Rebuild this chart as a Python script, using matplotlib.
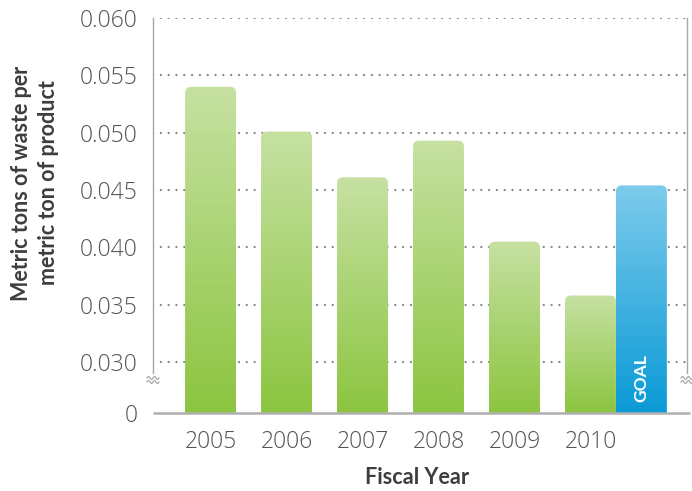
import matplotlib
matplotlib.use('Agg')
import matplotlib.pyplot as plt
import numpy as np
from matplotlib.patches import FancyBboxPatch
from matplotlib.colors import LinearSegmentedColormap
import matplotlib.transforms as mtransforms
from matplotlib import font_manager as fm

years = ['2005', '2006', '2007', '2008', '2009', '2010']
values = [0.0540, 0.0501, 0.0461, 0.0493, 0.0405, 0.0358]
goal_value = 0.0454
goal_label = 'GOAL'
ytick_values = [0.030, 0.035, 0.040, 0.045, 0.050, 0.055, 0.060]
ytick_labels = ['0.030', '0.035', '0.040', '0.045', '0.050', '0.055', '0.060']
zero_label = '0'
ylabel_line1 = 'Metric tons of waste per'
ylabel_line2 = 'metric ton of product'
xlabel_text = 'Fiscal Year'

# pick a light-weight font if one exists
light_family, light_weight = 'Open Sans', 'normal'
for fam in ['Open Sans', 'Noto Sans', 'Roboto', 'Inter', 'Lato']:
    ws = []
    for f in fm.fontManager.ttflist:
        if f.name == fam:
            w = f.weight
            if isinstance(w, str):
                w = fm.weight_dict.get(w, 400)
            ws.append(w)
    if any(250 <= w <= 350 for w in ws):
        light_family, light_weight = fam, 300
        break

W, H = 692, 491
fig = plt.figure(figsize=(W / 100, H / 100), dpi=100)
ax_l, ax_b, ax_w, ax_h = 153, 78, 534, 395
ax = fig.add_axes([ax_l / W, ax_b / H, ax_w / W, ax_h / H])
renderer = fig.canvas.get_renderer()

def fit_size(size, family, weight, text, target_px):
    t = fig.text(0, 0, text, fontsize=size, family=family, fontweight=weight)
    wpx = t.get_window_extent(renderer).width
    t.remove()
    return size * target_px / wpx

px_per_step = (362 - 18) / 6.0
y0 = 0.030 - (413 - 362) / px_per_step * 0.005
ytop = 0.060
xlo, xhi = -0.757, 6.27
ax.set_xlim(xlo, xhi)
ax.set_ylim(y0, ytop)
xpp = (xhi - xlo) / ax_w
ypp = (ytop - y0) / ax_h

bw = 0.67
for s in ax.spines.values():
    s.set_visible(False)

# dotted grid
for v in ytick_values:
    ax.plot([xlo, xhi], [v, v], color='#888888', lw=1.7, linestyle=(0, (0.01, 3.3)),
            dash_capstyle='round', zorder=1)

def grad_bar(rect, c_top, c_bot):
    x, y = rect.get_x(), rect.get_y()
    w, h = rect.get_width(), rect.get_height()
    r = 6 * xpp
    patch = FancyBboxPatch((x, y - 12 * ypp), w, h + 12 * ypp,
                           boxstyle=f'round,pad=0,rounding_size={r}',
                           mutation_aspect=ypp / xpp, transform=ax.transData,
                           facecolor='none', edgecolor='none')
    ax.add_patch(patch)
    cmap = LinearSegmentedColormap.from_list('g', [c_bot, c_top])
    grad = np.linspace(0, 1, 256).reshape(-1, 1)
    im = ax.imshow(grad, cmap=cmap, extent=[x, x + w, y, y + h], origin='lower',
                   aspect='auto', zorder=2, interpolation='bilinear')
    im.set_clip_path(patch)

xpos = np.arange(len(years))
bars = ax.bar(xpos, [v - y0 for v in values], bottom=y0, width=bw, color='none',
              edgecolor='none', zorder=2)
for b in bars:
    grad_bar(b, '#c6e1a2', '#8cc540')
gbar = ax.bar([len(years) - 1 + bw], [goal_value - y0], bottom=y0, width=bw,
              color='none', edgecolor='none', zorder=2)
grad_bar(gbar[0], '#7dcbec', '#0a9ad6')

ax.set_xlim(xlo, xhi)
ax.set_ylim(y0, ytop)

goal_fs = fit_size(12, 'Lato', 'bold', goal_label, 48)
ax.text(len(years) - 1 + bw, 0.030 - 16 / px_per_step * 0.005, goal_label,
        rotation=90, color='white', fontweight='bold', fontsize=goal_fs,
        ha='center', va='center', family='Lato', zorder=4)

# axis lines
tr = mtransforms.blended_transform_factory(ax.transAxes, ax.transData)
ybreak = 0.030 - 11 / px_per_step * 0.005
for xa in (0.0, 1.0):
    ax.plot([xa, xa], [ybreak, ytop], color='#a8a8a8', lw=1.0, transform=tr,
            clip_on=False, zorder=3)
# break marks
bx = np.linspace(-6, 6, 25)
by = 1.5 * np.sin(bx / 6 * 2 * np.pi)
for xa in (0.0, 1.0):
    for off in (0, 4):
        xs = xa + bx / ax_w
        ys = ybreak - (5 + off - by) * ypp
        ax.plot(xs, ys, color='#a8a8a8', lw=0.9, transform=tr, clip_on=False, zorder=3)
ax.plot([0, 1.006], [y0, y0], color='#b0b0b0', lw=1.8, transform=tr, clip_on=False,
        zorder=3, solid_capstyle='butt')

tick_fs = fit_size(14, light_family, light_weight, '0.060', 58)
ax.set_yticks(ytick_values + [y0])
ax.set_yticklabels(ytick_labels + [zero_label])
ax.set_xticks(xpos)
ax.set_xticklabels(years)
ax.tick_params(axis='y', length=0, pad=11, labelsize=tick_fs, labelcolor='#555555')
ax.tick_params(axis='x', length=0, pad=12, labelsize=tick_fs, labelcolor='#555555')
for lab in ax.get_yticklabels() + ax.get_xticklabels():
    lab.set_family(light_family)
    lab.set_fontweight(light_weight)

xl_fs = fit_size(13, 'Lato', 'bold', xlabel_text, 104)
fig.text(417 / W, 1 - 478 / H, xlabel_text, ha='center', va='center', fontsize=xl_fs,
         fontweight='bold', color='#3d3d3d', family='Lato')
yl_fs = fit_size(13, 'Lato', 'bold', ylabel_line1, 236)
fig.text(35 / W, 1 - 183 / H, ylabel_line1 + '\n' + ylabel_line2, ha='center', va='center',
         fontsize=yl_fs, fontweight='bold', color='#3d3d3d', family='Lato', rotation=90,
         multialignment='center', linespacing=1.3)

fig.savefig('out.png', dpi=100)
